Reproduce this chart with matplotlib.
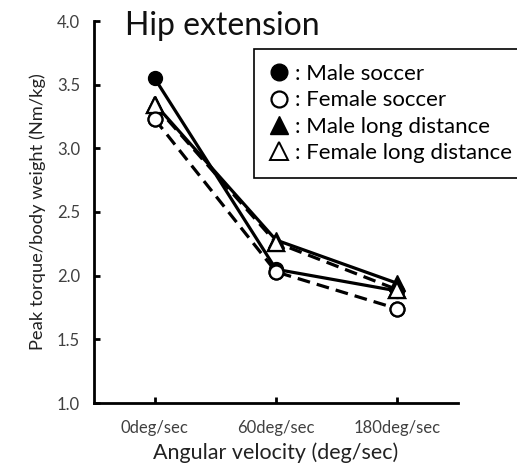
import matplotlib
matplotlib.use('Agg')
import matplotlib.pyplot as plt
from matplotlib.lines import Line2D

plt.rcParams['font.family'] = ['Lato', 'DejaVu Sans']

# datos
categorias = ['0deg/sec', '60deg/sec', '180deg/sec']
male_soccer = [3.55, 2.05, 1.88]
female_soccer = [3.23, 2.03, 1.74]
male_long = [3.35, 2.28, 1.94]
female_long = [3.34, 2.26, 1.89]

fig = plt.figure(figsize=(5.17, 4.67), dpi=100)
ax = fig.add_axes([94 / 517, 1 - 403 / 467, (458 - 94) / 517, (403 - 21) / 467])

x = range(len(categorias))
lw = 2.3
ms = 10
dash = (4, 2.2)

ax.plot(x, female_soccer, color='black', lw=lw, dashes=dash, marker='o', ms=ms,
        mfc='white', mec='black', mew=1.6, zorder=3)
ax.plot(x, female_long, color='black', lw=lw, dashes=dash, marker='^', ms=ms + 1,
        mfc='white', mec='black', mew=1.6, zorder=3)
ax.plot(x, male_soccer, color='black', lw=lw, marker='o', ms=ms,
        mfc='black', mec='black', zorder=4)
ax.plot(x, male_long, color='black', lw=lw, marker='^', ms=ms + 1,
        mfc='black', mec='black', zorder=4)
# marcadores abiertos encima
ax.plot(x, female_long, ls='none', marker='^', ms=ms + 1, mfc='white', mec='black', mew=1.6, zorder=5)
ax.plot(x, female_soccer, ls='none', marker='o', ms=ms, mfc='white', mec='black', mew=1.6, zorder=5)

ax.set_xlim(-0.5, 2.5)
ax.set_ylim(1.0, 4.0)
ax.set_yticks([1.0, 1.5, 2.0, 2.5, 3.0, 3.5, 4.0])
ax.set_yticklabels(['1.0', '1.5', '2.0', '2.5', '3.0', '3.5', '4.0'])
ax.set_xticks(list(x))
ax.set_xticklabels(categorias)
ax.tick_params(direction='in', length=4, width=2, colors='black', labelcolor='#404040')
ax.tick_params(axis='x', pad=12, labelsize=12)
ax.tick_params(axis='y', pad=10, labelsize=12)
for s in ['top', 'right']:
    ax.spines[s].set_visible(False)
for s in ['left', 'bottom']:
    ax.spines[s].set_linewidth(2)

ax.set_ylabel('Peak torque/body weight (Nm/kg)', fontsize=13.2, color='#222222', labelpad=8)
ax.set_xlabel('Angular velocity (deg/sec)', fontsize=15.5, color='#222222', labelpad=5)

fig.text(125 / 517, 1 - 35 / 467, 'Hip extension', fontsize=23, color='#111111')

handles = [
    Line2D([], [], ls='none', marker='o', ms=12, mfc='black', mec='black'),
    Line2D([], [], ls='none', marker='o', ms=11.5, mfc='white', mec='black', mew=1.6),
    Line2D([], [], ls='none', marker='^', ms=13, mfc='black', mec='black'),
    Line2D([], [], ls='none', marker='^', ms=13, mfc='white', mec='black', mew=1.4),
]
etiquetas = [': Male soccer', ': Female soccer', ': Male long distance', ': Female long distance']
leg = fig.legend(handles, etiquetas, loc='upper left',
                 bbox_to_anchor=(254 / 517, 1 - 169 / 467, 270 / 517, 120 / 467),
                 mode='expand', fontsize=16, frameon=True, fancybox=False, framealpha=1,
                 handlelength=0.9, handletextpad=0.25, borderpad=0.68, labelspacing=0.28,
                 borderaxespad=0)
leg.get_frame().set_edgecolor('black')
leg.get_frame().set_linewidth(1.2)

fig.savefig('out.png', dpi=100)
